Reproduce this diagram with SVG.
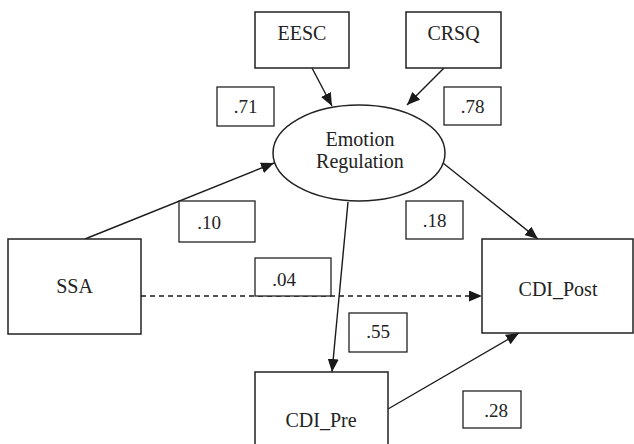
<svg xmlns="http://www.w3.org/2000/svg" width="634" height="444" viewBox="0 0 634 444">
<defs>
<marker id="arr" markerUnits="userSpaceOnUse" markerWidth="13" markerHeight="11" refX="13" refY="5.5" orient="auto">
<path d="M0,0 L13,5.5 L0,11 z" fill="#1a1a1a"/>
</marker>
<style>
.box{fill:#fff;stroke:#222;stroke-width:1.5}
.lbl{fill:#fff;stroke:#222;stroke-width:1.3}
text{font-family:'Liberation Serif','DejaVu Serif',serif;fill:#222;text-anchor:middle}
.t{font-size:20px}
.n{font-size:19px}
.c{fill:none;stroke:#1a1a1a;stroke-width:1.4}
</style>
</defs>
<rect width="634" height="444" fill="#fff"/>
<g id="connectors">
<line class="c" x1="312" y1="68" x2="332" y2="106" marker-end="url(#arr)"/>
<line class="c" x1="444" y1="68" x2="407" y2="105" marker-end="url(#arr)"/>
<line class="c" x1="85" y1="239" x2="274" y2="163" marker-end="url(#arr)"/>
<line class="c" x1="443" y1="163" x2="538" y2="239" marker-end="url(#arr)"/>
<line class="c" x1="348" y1="202" x2="332" y2="372" marker-end="url(#arr)"/>
<line class="c" x1="141" y1="296" x2="482" y2="296" stroke-dasharray="5,4" marker-end="url(#arr)"/>
<line class="c" x1="388" y1="409" x2="519" y2="333" marker-end="url(#arr)"/>
</g>
<g id="EESC"><rect class="box" x="255" y="12" width="94" height="56"/><text class="t" x="302" y="40">EESC</text></g>
<g id="CRSQ"><rect class="box" x="406" y="12" width="95" height="56"/><text class="t" x="453.5" y="40">CRSQ</text></g>
<g id="ER"><ellipse class="box" cx="359" cy="153" rx="86" ry="48"/><text class="t" x="360" y="146">Emotion</text><text class="t" x="360" y="168">Regulation</text></g>
<g id="SSA"><rect class="box" x="8" y="239" width="133" height="95"/><text class="t" x="74.5" y="293">SSA</text></g>
<g id="CDI_Post"><rect class="box" x="482" y="239" width="151" height="94"/><text class="t" x="558" y="296">CDI_Post</text></g>
<g id="CDI_Pre"><rect class="box" x="255" y="372" width="133" height="80"/><text class="t" x="321" y="427">CDI_Pre</text></g>
<g id="w71"><rect class="lbl" x="217" y="87" width="57" height="39"/><text class="n" x="245.5" y="113">.71</text></g>
<g id="w78"><rect class="lbl" x="444" y="87" width="57" height="38"/><text class="n" x="472.5" y="113">.78</text></g>
<g id="w10"><rect class="lbl" x="179" y="201" width="76" height="41"/><text class="n" x="209" y="229">.10</text></g>
<g id="w04"><rect class="lbl" x="255" y="258" width="76" height="38"/><text class="n" x="284" y="286">.04</text></g>
<g id="w18"><rect class="lbl" x="406" y="201" width="57" height="38"/><text class="n" x="434.5" y="227">.18</text></g>
<g id="w55"><rect class="lbl" x="349" y="313" width="58" height="39"/><text class="n" x="378" y="338">.55</text></g>
<g id="w28"><rect class="lbl" x="463" y="391" width="58" height="37"/><text class="n" x="496" y="417">.28</text></g>
</svg>
